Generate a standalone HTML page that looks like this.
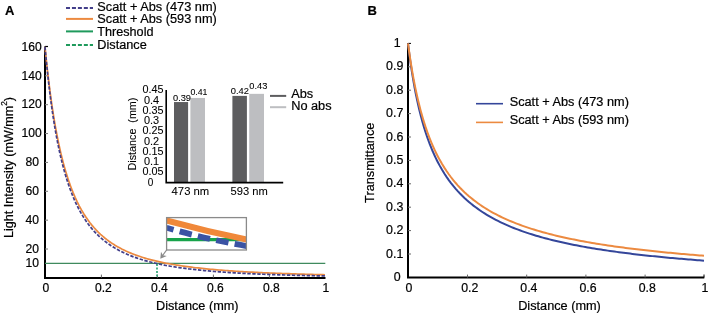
<!DOCTYPE html>
<html><head><meta charset="utf-8"><style>
html,body{margin:0;padding:0;background:#fff;}
svg{display:block;font-family:"Liberation Sans",sans-serif;will-change:transform;} text{stroke:#000;stroke-width:0.2px;}
</style></head><body>
<svg width="708" height="314" viewBox="0 0 708 314">
<rect width="708" height="314" fill="#fff"/>
<text x="5.0" y="14.7" font-size="13" font-weight="bold" fill="#000">A</text>
<line x1="66" y1="8.0" x2="93" y2="8.0" stroke="#433f8a" stroke-width="1.9" stroke-dasharray="4 1.95"/>
<text x="97.30" y="10.50" font-size="12.5" textLength="119.50" lengthAdjust="spacingAndGlyphs" fill="#000" >Scatt + Abs (473 nm)</text>
<line x1="66" y1="18.9" x2="93" y2="18.9" stroke="#ec8a40" stroke-width="2"/>
<text x="97.30" y="23.00" font-size="12.5" textLength="119.50" lengthAdjust="spacingAndGlyphs" fill="#000" >Scatt + Abs (593 nm)</text>
<line x1="66" y1="31.4" x2="93" y2="31.4" stroke="#1f9a5c" stroke-width="2"/>
<text x="97.30" y="36.00" font-size="12.5" textLength="56.20" lengthAdjust="spacingAndGlyphs" fill="#000" >Threshold</text>
<line x1="66" y1="45.0" x2="93" y2="45.0" stroke="#1f9a5c" stroke-width="1.9" stroke-dasharray="4 1.95"/>
<text x="97.30" y="49.00" font-size="12.5" textLength="49.50" lengthAdjust="spacingAndGlyphs" fill="#000" >Distance</text>
<path d="M45,46.5 V278 H325.5" fill="none" stroke="#000" stroke-width="2"/>
<line x1="45" y1="46.5" x2="48" y2="46.5" stroke="#000" stroke-width="1.2"/>
<line x1="45" y1="249.03" x2="48" y2="249.03" stroke="#777" stroke-width="1"/>
<line x1="45" y1="220.16" x2="48" y2="220.16" stroke="#777" stroke-width="1"/>
<line x1="45" y1="191.29" x2="48" y2="191.29" stroke="#777" stroke-width="1"/>
<line x1="45" y1="162.42" x2="48" y2="162.42" stroke="#777" stroke-width="1"/>
<line x1="45" y1="133.55" x2="48" y2="133.55" stroke="#777" stroke-width="1"/>
<line x1="45" y1="104.68" x2="48" y2="104.68" stroke="#777" stroke-width="1"/>
<line x1="45" y1="75.81" x2="48" y2="75.81" stroke="#777" stroke-width="1"/>
<line x1="101.40" y1="277.7" x2="101.40" y2="274.6" stroke="#666" stroke-width="1"/>
<line x1="157.40" y1="277.7" x2="157.40" y2="274.6" stroke="#666" stroke-width="1"/>
<line x1="213.40" y1="277.7" x2="213.40" y2="274.6" stroke="#666" stroke-width="1"/>
<line x1="269.40" y1="277.7" x2="269.40" y2="274.6" stroke="#666" stroke-width="1"/>
<line x1="45" y1="263.45" x2="325.3" y2="263.45" stroke="#3f8a5e" stroke-width="1.2"/>
<line x1="157.0" y1="264.0" x2="157.0" y2="277" stroke="#30a878" stroke-width="1.7" stroke-dasharray="2.1 1.4"/>
<path d="M45.00,46.94 L45.47,51.79 L45.95,56.49 L46.42,61.05 L46.90,65.47 L47.37,69.76 L47.85,73.93 L48.32,77.97 L48.80,81.90 L49.27,85.72 L49.75,89.43 L50.22,93.04 L50.69,96.54 L51.17,99.96 L51.64,103.27 L52.12,106.50 L52.59,109.64 L53.07,112.70 L53.54,115.68 L54.02,118.58 L54.49,121.41 L54.97,124.16 L55.44,126.85 L55.92,129.46 L56.39,132.01 L56.86,134.50 L57.34,136.92 L57.81,139.29 L58.29,141.60 L58.76,143.85 L59.24,146.05 L59.71,148.20 L60.19,150.30 L60.66,152.34 L61.14,154.35 L61.61,156.30 L62.08,158.21 L62.56,160.08 L63.03,161.90 L63.51,163.68 L63.98,165.43 L64.46,167.13 L64.93,168.80 L65.41,170.43 L65.88,172.03 L66.36,173.59 L66.83,175.12 L67.31,176.62 L67.78,178.09 L68.25,179.52 L68.73,180.93 L69.20,182.30 L69.68,183.65 L70.15,184.97 L70.63,186.26 L71.10,187.53 L71.58,188.78 L72.05,189.99 L72.53,191.19 L73.00,192.36 L75.12,197.31 L77.24,201.86 L79.35,206.05 L81.47,209.91 L83.59,213.48 L85.71,216.78 L87.82,219.85 L89.94,222.69 L92.06,225.34 L94.18,227.81 L96.29,230.12 L98.41,232.28 L100.53,234.30 L102.65,236.19 L104.76,237.97 L106.88,239.64 L109.00,241.21 L111.12,242.69 L113.24,244.09 L115.35,245.41 L117.47,246.65 L119.59,247.83 L121.71,248.95 L123.82,250.00 L125.94,251.01 L128.06,251.96 L130.18,252.87 L132.29,253.73 L134.41,254.55 L136.53,255.33 L138.65,256.07 L140.76,256.78 L142.88,257.45 L145.00,258.10 L147.12,258.72 L149.24,259.31 L151.35,259.88 L153.47,260.42 L155.59,260.93 L157.71,261.43 L159.82,261.91 L161.94,262.37 L164.06,262.80 L166.18,263.23 L168.29,263.63 L170.41,264.02 L172.53,264.39 L174.65,264.76 L176.76,265.10 L178.88,265.44 L181.00,265.76 L183.12,266.07 L185.24,266.37 L187.35,266.66 L189.47,266.94 L191.59,267.21 L193.71,267.47 L195.82,267.72 L197.94,267.96 L200.06,268.20 L202.18,268.42 L204.29,268.64 L206.41,268.85 L208.53,269.06 L210.65,269.26 L212.76,269.45 L214.88,269.64 L217.00,269.82 L219.12,270.00 L221.24,270.17 L223.35,270.33 L225.47,270.49 L227.59,270.65 L229.71,270.80 L231.82,270.95 L233.94,271.09 L236.06,271.23 L238.18,271.36 L240.29,271.50 L242.41,271.62 L244.53,271.75 L246.65,271.87 L248.76,271.99 L250.88,272.10 L253.00,272.21 L255.12,272.32 L257.24,272.42 L259.35,272.53 L261.47,272.63 L263.59,272.73 L265.71,272.82 L267.82,272.91 L269.94,273.00 L272.06,273.09 L274.18,273.18 L276.29,273.26 L278.41,273.34 L280.53,273.42 L282.65,273.50 L284.76,273.58 L286.88,273.65 L289.00,273.72 L291.12,273.79 L293.24,273.86 L295.35,273.93 L297.47,274.00 L299.59,274.06 L301.71,274.12 L303.82,274.19 L305.94,274.25 L308.06,274.31 L310.18,274.36 L312.29,274.42 L314.41,274.48 L316.53,274.53 L318.65,274.58 L320.76,274.63 L322.88,274.68 L325.00,274.73" fill="none" stroke="#ec8a40" stroke-width="1.7"/>
<path d="M45.00,46.94 L45.47,52.15 L45.95,57.19 L46.42,62.06 L46.90,66.77 L47.37,71.33 L47.85,75.74 L48.32,80.02 L48.80,84.16 L49.27,88.17 L49.75,92.06 L50.22,95.84 L50.69,99.50 L51.17,103.05 L51.64,106.50 L52.12,109.85 L52.59,113.10 L53.07,116.26 L53.54,119.33 L54.02,122.32 L54.49,125.22 L54.97,128.05 L55.44,130.80 L55.92,133.47 L56.39,136.07 L56.86,138.61 L57.34,141.08 L57.81,143.48 L58.29,145.83 L58.76,148.11 L59.24,150.34 L59.71,152.51 L60.19,154.63 L60.66,156.69 L61.14,158.71 L61.61,160.67 L62.08,162.59 L62.56,164.47 L63.03,166.30 L63.51,168.09 L63.98,169.83 L64.46,171.54 L64.93,173.21 L65.41,174.84 L65.88,176.43 L66.36,177.99 L66.83,179.51 L67.31,181.00 L67.78,182.46 L68.25,183.88 L68.73,185.28 L69.20,186.64 L69.68,187.98 L70.15,189.29 L70.63,190.57 L71.10,191.82 L71.58,193.05 L72.05,194.26 L72.53,195.44 L73.00,196.59 L75.12,201.47 L77.24,205.95 L79.35,210.06 L81.47,213.84 L83.59,217.33 L85.71,220.56 L87.82,223.55 L89.94,226.33 L92.06,228.91 L94.18,231.31 L96.29,233.55 L98.41,235.65 L100.53,237.60 L102.65,239.44 L104.76,241.16 L106.88,242.78 L109.00,244.30 L111.12,245.73 L113.24,247.08 L115.35,248.36 L117.47,249.56 L119.59,250.70 L121.71,251.78 L123.82,252.80 L125.94,253.76 L128.06,254.68 L130.18,255.55 L132.29,256.38 L134.41,257.17 L136.53,257.92 L138.65,258.63 L140.76,259.31 L142.88,259.96 L145.00,260.58 L147.12,261.17 L149.24,261.74 L151.35,262.28 L153.47,262.79 L155.59,263.29 L157.71,263.76 L159.82,264.21 L161.94,264.65 L164.06,265.07 L166.18,265.47 L168.29,265.85 L170.41,266.22 L172.53,266.58 L174.65,266.92 L176.76,267.24 L178.88,267.56 L181.00,267.86 L183.12,268.15 L185.24,268.44 L187.35,268.71 L189.47,268.97 L191.59,269.22 L193.71,269.46 L195.82,269.70 L197.94,269.92 L200.06,270.14 L202.18,270.35 L204.29,270.56 L206.41,270.75 L208.53,270.95 L210.65,271.13 L212.76,271.31 L214.88,271.48 L217.00,271.65 L219.12,271.81 L221.24,271.96 L223.35,272.11 L225.47,272.26 L227.59,272.40 L229.71,272.54 L231.82,272.67 L233.94,272.80 L236.06,272.93 L238.18,273.05 L240.29,273.17 L242.41,273.28 L244.53,273.39 L246.65,273.50 L248.76,273.61 L250.88,273.71 L253.00,273.81 L255.12,273.90 L257.24,274.00 L259.35,274.09 L261.47,274.17 L263.59,274.26 L265.71,274.34 L267.82,274.42 L269.94,274.50 L272.06,274.58 L274.18,274.65 L276.29,274.73 L278.41,274.80 L280.53,274.87 L282.65,274.93 L284.76,275.00 L286.88,275.06 L289.00,275.12 L291.12,275.18 L293.24,275.24 L295.35,275.30 L297.47,275.35 L299.59,275.41 L301.71,275.46 L303.82,275.51 L305.94,275.56 L308.06,275.61 L310.18,275.66 L312.29,275.71 L314.41,275.75 L316.53,275.80 L318.65,275.84 L320.76,275.88 L322.88,275.92 L325.00,275.96" fill="none" stroke="#433f8a" stroke-width="1.7" stroke-dasharray="3.4 1.55"/>
<text x="31.65" y="50.69" font-size="12.1" text-anchor="middle" fill="#000" >160</text>
<text x="31.65" y="79.56" font-size="12.1" text-anchor="middle" fill="#000" >140</text>
<text x="31.65" y="108.43" font-size="12.1" text-anchor="middle" fill="#000" >120</text>
<text x="31.65" y="137.30" font-size="12.1" text-anchor="middle" fill="#000" >100</text>
<text x="32.35" y="166.17" font-size="12.1" text-anchor="middle" fill="#000" >80</text>
<text x="32.35" y="195.04" font-size="12.1" text-anchor="middle" fill="#000" >60</text>
<text x="32.35" y="223.91" font-size="12.1" text-anchor="middle" fill="#000" >40</text>
<text x="32.35" y="252.78" font-size="12.1" text-anchor="middle" fill="#000" >20</text>
<text x="32.35" y="267.21" font-size="12.1" text-anchor="middle" fill="#000" >10</text>
<text x="45.80" y="291.60" font-size="12.1" text-anchor="middle" fill="#000" >0</text>
<text x="103.40" y="291.60" font-size="12.1" text-anchor="middle" fill="#000" >0.2</text>
<text x="159.40" y="291.60" font-size="12.1" text-anchor="middle" fill="#000" >0.4</text>
<text x="215.40" y="291.60" font-size="12.1" text-anchor="middle" fill="#000" >0.6</text>
<text x="271.40" y="291.60" font-size="12.1" text-anchor="middle" fill="#000" >0.8</text>
<text x="325.80" y="291.60" font-size="12.1" text-anchor="middle" fill="#000" >1</text>
<text x="156.00" y="309.80" font-size="12.3" textLength="82.60" lengthAdjust="spacingAndGlyphs" fill="#000" >Distance (mm)</text>
<text transform="translate(12.90,238.00) rotate(-90)" font-size="12.6" fill="#000" >Light Intensity (mW/mm<tspan font-size="8.2" dy="-6">2</tspan><tspan dy="6">)</tspan></text>
<rect x="174.0" y="102.05" width="14.10" height="79.95" fill="#5d5d5f"/>
<rect x="190.4" y="97.95" width="14.60" height="84.05" fill="#bdbec1"/>
<rect x="232.4" y="95.90" width="14.50" height="86.10" fill="#5d5d5f"/>
<rect x="249.2" y="93.85" width="14.80" height="88.15" fill="#bdbec1"/>
<path d="M166.2,90 V182.6 H283.2" fill="none" stroke="#000" stroke-width="1.6"/>
<text x="142.60" y="93.35" font-size="10" style="stroke-width:0.08px" textLength="21.00" lengthAdjust="spacingAndGlyphs" fill="#000" >0.45</text>
<text x="144.00" y="103.60" font-size="10" style="stroke-width:0.08px" textLength="15.20" lengthAdjust="spacingAndGlyphs" fill="#000" >0.4</text>
<text x="142.60" y="113.85" font-size="10" style="stroke-width:0.08px" textLength="21.00" lengthAdjust="spacingAndGlyphs" fill="#000" >0.35</text>
<text x="144.00" y="124.10" font-size="10" style="stroke-width:0.08px" textLength="15.20" lengthAdjust="spacingAndGlyphs" fill="#000" >0.3</text>
<text x="142.60" y="134.35" font-size="10" style="stroke-width:0.08px" textLength="21.00" lengthAdjust="spacingAndGlyphs" fill="#000" >0.25</text>
<text x="144.00" y="144.60" font-size="10" style="stroke-width:0.08px" textLength="15.20" lengthAdjust="spacingAndGlyphs" fill="#000" >0.2</text>
<text x="142.60" y="154.85" font-size="10" style="stroke-width:0.08px" textLength="21.00" lengthAdjust="spacingAndGlyphs" fill="#000" >0.15</text>
<text x="144.00" y="165.10" font-size="10" style="stroke-width:0.08px" textLength="15.20" lengthAdjust="spacingAndGlyphs" fill="#000" >0.1</text>
<text x="142.60" y="175.35" font-size="10" style="stroke-width:0.08px" textLength="21.00" lengthAdjust="spacingAndGlyphs" fill="#000" >0.05</text>
<text x="147.80" y="185.60" font-size="10" style="stroke-width:0.08px" fill="#000" >0</text>
<text transform="translate(136.30,170.40) rotate(-90)" font-size="10.9" style="stroke-width:0.08px" textLength="72.80" lengthAdjust="spacingAndGlyphs" fill="#000" >Distance&#160;&#160;(mm)</text>
<text x="173.00" y="100.60" font-size="8.5" style="stroke-width:0.08px" textLength="18.00" lengthAdjust="spacingAndGlyphs" fill="#000" >0.39</text>
<text x="190.40" y="94.80" font-size="8.5" style="stroke-width:0.08px" textLength="17.00" lengthAdjust="spacingAndGlyphs" fill="#000" >0.41</text>
<text x="230.80" y="94.40" font-size="8.5" style="stroke-width:0.08px" textLength="18.20" lengthAdjust="spacingAndGlyphs" fill="#000" >0.42</text>
<text x="249.30" y="89.10" font-size="8.5" style="stroke-width:0.08px" textLength="18.00" lengthAdjust="spacingAndGlyphs" fill="#000" >0.43</text>
<text x="171.60" y="194.50" font-size="10.5" style="stroke-width:0.08px" textLength="37.60" lengthAdjust="spacingAndGlyphs" fill="#000" >473 nm</text>
<text x="230.60" y="194.50" font-size="10.5" style="stroke-width:0.08px" textLength="37.20" lengthAdjust="spacingAndGlyphs" fill="#000" >593 nm</text>
<line x1="270" y1="95.9" x2="286.2" y2="95.9" stroke="#5d5d5f" stroke-width="2"/>
<line x1="270" y1="107.2" x2="286.2" y2="107.2" stroke="#bdbec1" stroke-width="2"/>
<text x="291.20" y="97.80" font-size="12" textLength="22.00" lengthAdjust="spacingAndGlyphs" fill="#000" >Abs</text>
<text x="291.20" y="109.50" font-size="12" textLength="40.40" lengthAdjust="spacingAndGlyphs" fill="#000" >No abs</text>
<defs><clipPath id="zc"><rect x="166.6" y="217.6" width="79.8" height="32.4"/></clipPath></defs>
<g clip-path="url(#zc)">
<line x1="166" y1="239.6" x2="247" y2="239.6" stroke="#17a34a" stroke-width="3.2"/>
<path d="M166.5,227.7 Q206.55,239.4 246.6,246.05" fill="none" stroke="#3a53a4" stroke-width="5.8" stroke-dasharray="12.5 6.3" stroke-dashoffset="5.2"/>
<path d="M166.5,220.5 Q206.55,231.5 246.6,239.6" fill="none" stroke="#f0883a" stroke-width="6.0"/>
</g>
<rect x="166.6" y="217.6" width="79.8" height="32.4" fill="none" stroke="#8a8a8a" stroke-width="1.3"/>
<path d="M166.6,250.0 L162.2,256.0" fill="none" stroke="#8a8a8a" stroke-width="1.2"/>
<path d="M160.3,258.7 L161.0,251.8 L162.9,255.2 L166.8,256.0 Z" fill="#8a8a8a"/>
<text x="367.6" y="14.7" font-size="13" font-weight="bold" fill="#000">B</text>
<path d="M408,43.3 V277.4 H704.3" fill="none" stroke="#000" stroke-width="2"/>
<line x1="408" y1="43.4" x2="411" y2="43.4" stroke="#000" stroke-width="1"/>
<line x1="704" y1="277.5" x2="704" y2="274.5" stroke="#000" stroke-width="1"/>
<line x1="408" y1="254.00" x2="411" y2="254.00" stroke="#666" stroke-width="1"/>
<line x1="408" y1="230.60" x2="411" y2="230.60" stroke="#666" stroke-width="1"/>
<line x1="408" y1="207.20" x2="411" y2="207.20" stroke="#666" stroke-width="1"/>
<line x1="408" y1="183.80" x2="411" y2="183.80" stroke="#666" stroke-width="1"/>
<line x1="408" y1="160.40" x2="411" y2="160.40" stroke="#666" stroke-width="1"/>
<line x1="408" y1="137.00" x2="411" y2="137.00" stroke="#666" stroke-width="1"/>
<line x1="408" y1="113.60" x2="411" y2="113.60" stroke="#666" stroke-width="1"/>
<line x1="408" y1="90.20" x2="411" y2="90.20" stroke="#666" stroke-width="1"/>
<line x1="408" y1="66.80" x2="411" y2="66.80" stroke="#666" stroke-width="1"/>
<line x1="467.50" y1="277.5" x2="467.50" y2="274.6" stroke="#666" stroke-width="1"/>
<line x1="526.70" y1="277.5" x2="526.70" y2="274.6" stroke="#666" stroke-width="1"/>
<line x1="585.90" y1="277.5" x2="585.90" y2="274.6" stroke="#666" stroke-width="1"/>
<line x1="645.10" y1="277.5" x2="645.10" y2="274.6" stroke="#666" stroke-width="1"/>
<path d="M408.00,43.40 L408.50,47.52 L409.00,51.49 L409.51,55.32 L410.01,59.01 L410.51,62.57 L411.01,66.01 L411.51,69.34 L412.01,72.56 L412.52,75.68 L413.02,78.69 L413.52,81.62 L414.02,84.45 L414.52,87.20 L415.02,89.87 L415.53,92.46 L416.03,94.98 L416.53,97.42 L417.03,99.80 L417.53,102.12 L418.03,104.37 L418.54,106.56 L419.04,108.70 L419.54,110.78 L420.04,112.81 L420.54,114.79 L421.04,116.72 L421.55,118.60 L422.05,120.44 L422.55,122.23 L423.05,123.99 L423.55,125.70 L424.05,127.37 L424.56,129.01 L425.06,130.61 L425.56,132.17 L426.06,133.71 L426.56,135.20 L427.06,136.67 L427.57,138.11 L428.07,139.52 L428.57,140.89 L429.07,142.24 L429.57,143.57 L430.07,144.87 L430.58,146.14 L431.08,147.39 L431.58,148.61 L432.08,149.81 L432.58,150.99 L433.08,152.15 L433.59,153.28 L434.09,154.40 L434.59,155.49 L435.09,156.57 L435.59,157.63 L436.09,158.67 L436.60,159.69 L437.10,160.69 L437.60,161.68 L439.84,165.89 L442.08,169.80 L444.32,173.45 L446.55,176.87 L448.79,180.07 L451.03,183.08 L453.27,185.92 L455.51,188.60 L457.75,191.12 L459.99,193.52 L462.23,195.79 L464.46,197.95 L466.70,200.00 L468.94,201.95 L471.18,203.82 L473.42,205.60 L475.66,207.30 L477.90,208.93 L480.13,210.49 L482.37,211.99 L484.61,213.42 L486.85,214.80 L489.09,216.13 L491.33,217.41 L493.57,218.64 L495.81,219.82 L498.04,220.97 L500.28,222.07 L502.52,223.14 L504.76,224.17 L507.00,225.16 L509.24,226.13 L511.48,227.06 L513.71,227.97 L515.95,228.84 L518.19,229.69 L520.43,230.52 L522.67,231.32 L524.91,232.10 L527.15,232.85 L529.38,233.58 L531.62,234.30 L533.86,234.99 L536.10,235.67 L538.34,236.33 L540.58,236.97 L542.82,237.59 L545.06,238.20 L547.29,238.79 L549.53,239.37 L551.77,239.94 L554.01,240.49 L556.25,241.03 L558.49,241.55 L560.73,242.06 L562.96,242.57 L565.20,243.06 L567.44,243.53 L569.68,244.00 L571.92,244.46 L574.16,244.91 L576.40,245.35 L578.64,245.77 L580.87,246.19 L583.11,246.61 L585.35,247.01 L587.59,247.40 L589.83,247.79 L592.07,248.17 L594.31,248.54 L596.54,248.90 L598.78,249.26 L601.02,249.61 L603.26,249.95 L605.50,250.29 L607.74,250.62 L609.98,250.94 L612.22,251.26 L614.45,251.58 L616.69,251.88 L618.93,252.18 L621.17,252.48 L623.41,252.77 L625.65,253.06 L627.89,253.34 L630.12,253.61 L632.36,253.89 L634.60,254.15 L636.84,254.41 L639.08,254.67 L641.32,254.93 L643.56,255.17 L645.79,255.42 L648.03,255.66 L650.27,255.90 L652.51,256.13 L654.75,256.36 L656.99,256.59 L659.23,256.81 L661.47,257.03 L663.70,257.25 L665.94,257.46 L668.18,257.67 L670.42,257.88 L672.66,258.08 L674.90,258.28 L677.14,258.48 L679.37,258.67 L681.61,258.86 L683.85,259.05 L686.09,259.24 L688.33,259.42 L690.57,259.60 L692.81,259.78 L695.05,259.95 L697.28,260.13 L699.52,260.30 L701.76,260.47 L704.00,260.63" fill="none" stroke="#34469a" stroke-width="2"/>
<path d="M408.00,43.40 L408.50,47.14 L409.00,50.76 L409.51,54.26 L410.01,57.64 L410.51,60.92 L411.01,64.10 L411.51,67.18 L412.01,70.17 L412.52,73.07 L413.02,75.89 L413.52,78.62 L414.02,81.28 L414.52,83.87 L415.02,86.38 L415.53,88.83 L416.03,91.21 L416.53,93.53 L417.03,95.80 L417.53,98.00 L418.03,100.15 L418.54,102.24 L419.04,104.28 L419.54,106.28 L420.04,108.23 L420.54,110.13 L421.04,111.98 L421.55,113.80 L422.05,115.57 L422.55,117.31 L423.05,119.00 L423.55,120.66 L424.05,122.29 L424.56,123.87 L425.06,125.43 L425.56,126.95 L426.06,128.44 L426.56,129.91 L427.06,131.34 L427.57,132.74 L428.07,134.12 L428.57,135.47 L429.07,136.79 L429.57,138.09 L430.07,139.36 L430.58,140.61 L431.08,141.84 L431.58,143.04 L432.08,144.22 L432.58,145.38 L433.08,146.52 L433.59,147.64 L434.09,148.74 L434.59,149.83 L435.09,150.89 L435.59,151.93 L436.09,152.96 L436.60,153.97 L437.10,154.97 L437.60,155.94 L439.84,160.12 L442.08,164.01 L444.32,167.64 L446.55,171.05 L448.79,174.25 L451.03,177.26 L453.27,180.10 L455.51,182.78 L457.75,185.31 L459.99,187.72 L462.23,190.00 L464.46,192.17 L466.70,194.23 L468.94,196.20 L471.18,198.07 L473.42,199.87 L475.66,201.58 L477.90,203.22 L480.13,204.80 L482.37,206.31 L484.61,207.75 L486.85,209.15 L489.09,210.49 L491.33,211.77 L493.57,213.02 L495.81,214.21 L498.04,215.37 L500.28,216.48 L502.52,217.56 L504.76,218.60 L507.00,219.61 L509.24,220.58 L511.48,221.53 L513.71,222.44 L515.95,223.33 L518.19,224.19 L520.43,225.02 L522.67,225.83 L524.91,226.62 L527.15,227.38 L529.38,228.12 L531.62,228.84 L533.86,229.55 L536.10,230.23 L538.34,230.90 L540.58,231.55 L542.82,232.18 L545.06,232.80 L547.29,233.40 L549.53,233.98 L551.77,234.56 L554.01,235.11 L556.25,235.66 L558.49,236.19 L560.73,236.71 L562.96,237.22 L565.20,237.72 L567.44,238.20 L569.68,238.68 L571.92,239.14 L574.16,239.60 L576.40,240.04 L578.64,240.48 L580.87,240.91 L583.11,241.32 L585.35,241.73 L587.59,242.14 L589.83,242.53 L592.07,242.91 L594.31,243.29 L596.54,243.66 L598.78,244.03 L601.02,244.38 L603.26,244.73 L605.50,245.08 L607.74,245.42 L609.98,245.75 L612.22,246.07 L614.45,246.39 L616.69,246.71 L618.93,247.01 L621.17,247.32 L623.41,247.61 L625.65,247.91 L627.89,248.19 L630.12,248.48 L632.36,248.76 L634.60,249.03 L636.84,249.30 L639.08,249.56 L641.32,249.82 L643.56,250.08 L645.79,250.33 L648.03,250.58 L650.27,250.83 L652.51,251.07 L654.75,251.30 L656.99,251.54 L659.23,251.77 L661.47,251.99 L663.70,252.22 L665.94,252.44 L668.18,252.65 L670.42,252.87 L672.66,253.08 L674.90,253.29 L677.14,253.49 L679.37,253.69 L681.61,253.89 L683.85,254.09 L686.09,254.28 L688.33,254.47 L690.57,254.66 L692.81,254.85 L695.05,255.03 L697.28,255.21 L699.52,255.39 L701.76,255.56 L704.00,255.74" fill="none" stroke="#ec8a40" stroke-width="2"/>
<text x="397.20" y="281.00" font-size="12.4" text-anchor="middle" fill="#000" >0</text>
<text x="394.70" y="257.60" font-size="12.4" text-anchor="middle" fill="#000" >0.1</text>
<text x="394.70" y="234.20" font-size="12.4" text-anchor="middle" fill="#000" >0.2</text>
<text x="394.70" y="210.80" font-size="12.4" text-anchor="middle" fill="#000" >0.3</text>
<text x="394.70" y="187.40" font-size="12.4" text-anchor="middle" fill="#000" >0.4</text>
<text x="394.70" y="164.00" font-size="12.4" text-anchor="middle" fill="#000" >0.5</text>
<text x="394.70" y="140.60" font-size="12.4" text-anchor="middle" fill="#000" >0.6</text>
<text x="394.70" y="117.20" font-size="12.4" text-anchor="middle" fill="#000" >0.7</text>
<text x="394.70" y="93.80" font-size="12.4" text-anchor="middle" fill="#000" >0.8</text>
<text x="394.70" y="70.40" font-size="12.4" text-anchor="middle" fill="#000" >0.9</text>
<text x="397.20" y="47.00" font-size="12.4" text-anchor="middle" fill="#000" >1</text>
<text x="408.80" y="292.00" font-size="12.3" text-anchor="middle" fill="#000" >0</text>
<text x="469.70" y="292.00" font-size="12.3" text-anchor="middle" fill="#000" >0.2</text>
<text x="528.90" y="292.00" font-size="12.3" text-anchor="middle" fill="#000" >0.4</text>
<text x="588.10" y="292.00" font-size="12.3" text-anchor="middle" fill="#000" >0.6</text>
<text x="647.30" y="292.00" font-size="12.3" text-anchor="middle" fill="#000" >0.8</text>
<text x="704.80" y="292.00" font-size="12.3" text-anchor="middle" fill="#000" >1</text>
<text x="518.20" y="309.80" font-size="12.3" textLength="82.60" lengthAdjust="spacingAndGlyphs" fill="#000" >Distance (mm)</text>
<text transform="translate(373.60,202.90) rotate(-90)" font-size="12.3" textLength="80.30" lengthAdjust="spacingAndGlyphs" fill="#000" >Transmittance</text>
<line x1="476" y1="103.7" x2="503" y2="103.7" stroke="#34469a" stroke-width="1.6"/>
<line x1="476" y1="122.4" x2="503" y2="122.4" stroke="#ec8a40" stroke-width="1.6"/>
<text x="509.70" y="106.40" font-size="12" textLength="119.20" lengthAdjust="spacingAndGlyphs" fill="#000" >Scatt + Abs (473 nm)</text>
<text x="509.70" y="124.40" font-size="12" textLength="119.20" lengthAdjust="spacingAndGlyphs" fill="#000" >Scatt + Abs (593 nm)</text>
</svg></body></html>
